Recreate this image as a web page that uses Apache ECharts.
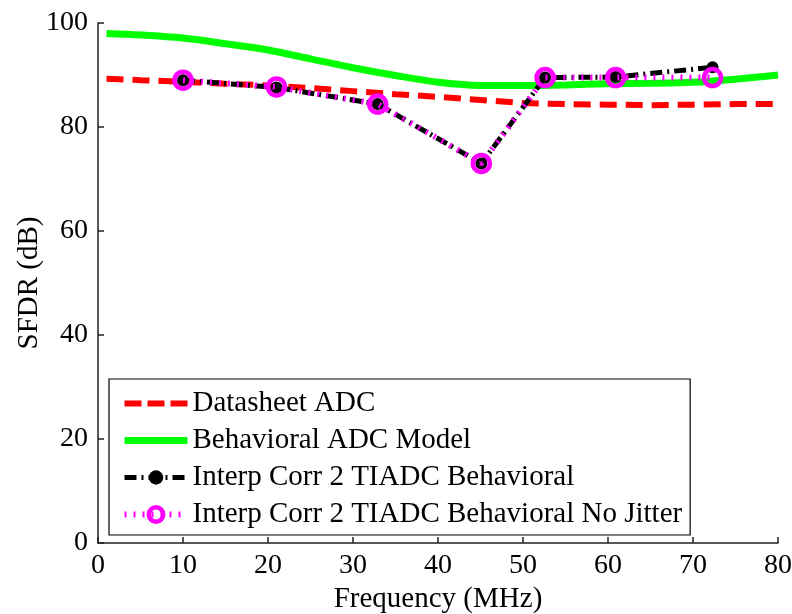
<!DOCTYPE html>
<html>
<head>
<meta charset="utf-8">
<script src="https://cdn.jsdelivr.net/npm/echarts@6/dist/echarts.min.js"></script>
<style>
  html, body { margin: 0; padding: 0; background: #fff; }
  #chart { width: 792px; height: 614px; }
</style>
</head>
<body>
<div id="chart"></div>
<script>
// Frequency grid (MHz) for the two single-ADC curves
const freqCurve = [1, 5, 10, 15, 20, 25, 30, 35, 40, 45, 50, 55, 60, 65, 70, 75, 80];
// Datasheet ADC SFDR (dB)
const datasheetADC = [89.3, 89.0, 88.7, 88.3, 88.0, 87.5, 86.9, 86.3, 85.8, 85.2, 84.6, 84.4, 84.3, 84.2, 84.3, 84.4, 84.4];
// Behavioral ADC model SFDR (dB)
const behavioralADC = [98.0, 97.7, 97.1, 96.0, 94.8, 93.1, 91.4, 89.9, 88.6, 88.0, 88.0, 88.1, 88.3, 88.4, 88.6, 89.2, 90.0];

// Test tone frequencies (MHz) for the two-channel TIADC runs
const freqInterp = [10.0, 21.0, 32.9, 45.1, 52.6, 60.9, 72.3];
// Interp Corr 2 TIADC, behavioral with jitter
const interpBehavioral = [89.0, 87.6, 84.4, 73.0, 89.5, 89.6, 91.5];
// Interp Corr 2 TIADC, behavioral without jitter
const interpNoJitter = [89.0, 87.7, 84.4, 73.0, 89.5, 89.5, 89.5];

// Axis ticks
const xTicks = [0, 10, 20, 30, 40, 50, 60, 70, 80];
const yTicks = [0, 20, 40, 60, 80, 100];

const pairs = (xs, ys) => xs.map((x, i) => [x, ys[i]]);
const serif = 'Liberation Serif';

const RED = '#ff0000', GREEN = '#00ff00', BLACK = '#000000', MAGENTA = '#ff00ff';
const redDash = [17, 9], blackDashDot = [12, 5, 2, 5], magentaDot = [2, 7];

const chart = echarts.init(document.getElementById('chart'), null, { renderer: 'canvas' });

chart.setOption({
  animation: false,
  backgroundColor: '#fff',
  grid: { left: 98, right: 14, top: 23, bottom: 71, containLabel: false, outerBoundsMode: 'none' },
  xAxis: {
    type: 'value',
    min: xTicks[0],
    max: xTicks[xTicks.length - 1],
    interval: xTicks[1] - xTicks[0],
    name: 'Frequency (MHz)',
    nameLocation: 'middle',
    nameGap: 42,
    nameMoveOverlap: false,
    nameTextStyle: { fontFamily: serif, fontSize: 29, color: '#000' },
    axisLine: { onZero: false, lineStyle: { color: '#222', width: 1.5 } },
    axisTick: { inside: true, length: 6, lineStyle: { color: '#222', width: 1.5 } },
    axisLabel: { fontFamily: serif, fontSize: 28, color: '#000', margin: 9 },
    splitLine: { show: false }
  },
  yAxis: {
    type: 'value',
    min: yTicks[0],
    max: yTicks[yTicks.length - 1],
    interval: yTicks[1] - yTicks[0],
    name: 'SFDR (dB)',
    nameLocation: 'middle',
    nameGap: 54,
    nameMoveOverlap: false,
    nameRotate: 90,
    nameTextStyle: { fontFamily: serif, fontSize: 29, color: '#000' },
    axisLine: { show: true, onZero: false, lineStyle: { color: '#222', width: 1.5 } },
    axisTick: { show: true, inside: true, length: 6, lineStyle: { color: '#222', width: 1.5 } },
    axisLabel: { fontFamily: serif, fontSize: 28, color: '#000', margin: 10 },
    splitLine: { show: false }
  },
  legend: {
    orient: 'vertical',
    left: 109,
    top: 379,
    backgroundColor: '#fff',
    borderColor: '#000',
    borderWidth: 1.2,
    padding: [10, 8, 6, 12],
    itemGap: 8,
    itemWidth: 63,
    itemHeight: 18,
    textStyle: { fontFamily: serif, fontSize: 29, color: '#000', lineHeight: 29 },
    data: [
      {
        name: 'Datasheet ADC',
        itemStyle: { color: 'rgba(0,0,0,0)', borderWidth: 0, opacity: 0 },
        lineStyle: { color: RED, width: 6, type: [17, 6] }
      },
      {
        name: 'Behavioral ADC Model',
        itemStyle: { color: 'rgba(0,0,0,0)', borderWidth: 0, opacity: 0 },
        lineStyle: { color: GREEN, width: 7 }
      },
      {
        name: 'Interp Corr 2 TIADC Behavioral',
        itemStyle: { color: BLACK },
        lineStyle: { color: BLACK, width: 5, type: blackDashDot }
      },
      {
        name: 'Interp Corr 2 TIADC Behavioral No Jitter',
        itemStyle: { color: 'rgba(0,0,0,0)', borderColor: MAGENTA, borderWidth: 4.5 },
        lineStyle: { color: MAGENTA, width: 6, type: magentaDot }
      }
    ]
  },
  series: [
    {
      name: 'Datasheet ADC',
      type: 'line',
      data: pairs(freqCurve, datasheetADC),
      showSymbol: false,
      symbol: 'none',
      color: RED,
      lineStyle: { color: RED, width: 6, type: redDash },
      z: 2
    },
    {
      name: 'Behavioral ADC Model',
      type: 'line',
      data: pairs(freqCurve, behavioralADC),
      showSymbol: false,
      symbol: 'none',
      smooth: 0.3,
      color: GREEN,
      lineStyle: { color: GREEN, width: 7 },
      z: 2
    },
    {
      name: 'Interp Corr 2 TIADC Behavioral',
      type: 'line',
      data: pairs(freqInterp, interpBehavioral),
      symbol: 'circle',
      symbolSize: 12,
      color: BLACK,
      itemStyle: { color: BLACK },
      lineStyle: { color: BLACK, width: 5, type: blackDashDot },
      z: 3
    },
    {
      name: 'Interp Corr 2 TIADC Behavioral No Jitter',
      type: 'line',
      data: pairs(freqInterp, interpNoJitter),
      symbol: 'circle',
      symbolSize: 17,
      color: MAGENTA,
      itemStyle: { color: 'rgba(0,0,0,0)', borderColor: MAGENTA, borderWidth: 4.5 },
      lineStyle: { color: MAGENTA, width: 6, type: magentaDot },
      z: 4
    }
  ]
});
</script>
</body>
</html>
